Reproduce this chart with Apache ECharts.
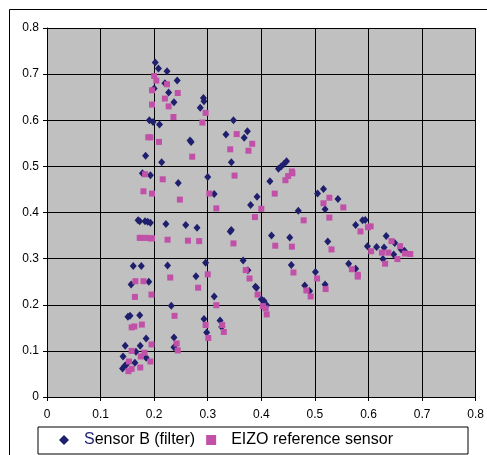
<!DOCTYPE html>
<html>
<head>
<meta charset="utf-8">
<script src="https://cdn.jsdelivr.net/npm/echarts@6/dist/echarts.min.js"></script>
<style>
  html, body { margin: 0; padding: 0; background: #fff; }
  #chart { width: 487px; height: 455px; }
</style>
</head>
<body>
<div id="chart"></div>
<script>
// Chromaticity coordinates (x, y) measured by each sensor
var sensorB = [
  [0.202,0.725],[0.208,0.712],[0.224,0.706],[0.243,0.686],[0.200,0.669],[0.220,0.680],
  [0.227,0.660],[0.237,0.639],[0.292,0.648],[0.293,0.641],[0.286,0.627],[0.191,0.600],
  [0.198,0.596],[0.210,0.591],[0.348,0.600],[0.334,0.569],[0.374,0.576],[0.368,0.562],
  [0.267,0.556],[0.269,0.553],[0.184,0.523],[0.214,0.509],[0.344,0.509],[0.178,0.485],
  [0.193,0.481],[0.300,0.477],[0.245,0.464],[0.312,0.440],[0.432,0.495],[0.437,0.500],
  [0.442,0.505],[0.447,0.511],[0.416,0.468],[0.392,0.434],[0.380,0.416],[0.505,0.441],
  [0.516,0.451],[0.519,0.407],[0.543,0.429],[0.469,0.404],[0.170,0.383],[0.173,0.381],
  [0.183,0.381],[0.188,0.380],[0.193,0.378],[0.222,0.375],[0.259,0.373],[0.280,0.367],
  [0.342,0.359],[0.344,0.362],[0.419,0.350],[0.453,0.346],[0.576,0.373],[0.589,0.383],
  [0.594,0.384],[0.598,0.327],[0.615,0.325],[0.633,0.349],[0.629,0.324],[0.649,0.334],
  [0.524,0.337],[0.627,0.299],[0.647,0.309],[0.661,0.320],[0.667,0.317],[0.161,0.284],
  [0.176,0.284],[0.157,0.244],[0.190,0.250],[0.225,0.285],[0.296,0.291],[0.278,0.262],
  [0.366,0.296],[0.375,0.275],[0.389,0.239],[0.391,0.237],[0.400,0.212],[0.405,0.208],
  [0.410,0.199],[0.456,0.286],[0.501,0.271],[0.519,0.244],[0.481,0.242],[0.490,0.230],
  [0.563,0.289],[0.576,0.278],[0.151,0.174],[0.155,0.176],[0.173,0.177],[0.232,0.198],
  [0.312,0.218],[0.293,0.169],[0.323,0.166],[0.326,0.152],[0.298,0.140],[0.237,0.129],
  [0.237,0.108],[0.185,0.127],[0.146,0.111],[0.174,0.111],[0.166,0.098],[0.142,0.088],
  [0.185,0.085],[0.164,0.074],[0.145,0.067],[0.141,0.062],[0.148,0.070]
];
var eizoRef = [
  [0.200,0.696],[0.204,0.686],[0.224,0.678],[0.196,0.665],[0.244,0.659],[0.220,0.647],
  [0.227,0.630],[0.196,0.634],[0.236,0.607],[0.296,0.616],[0.290,0.595],[0.189,0.563],
  [0.193,0.563],[0.209,0.553],[0.354,0.570],[0.342,0.537],[0.383,0.549],[0.376,0.534],
  [0.271,0.521],[0.183,0.483],[0.350,0.480],[0.216,0.472],[0.180,0.446],[0.196,0.441],
  [0.303,0.441],[0.248,0.428],[0.316,0.409],[0.457,0.489],[0.458,0.485],[0.450,0.479],
  [0.445,0.470],[0.425,0.441],[0.400,0.408],[0.388,0.390],[0.479,0.383],[0.516,0.420],
  [0.527,0.432],[0.553,0.411],[0.527,0.389],[0.173,0.345],[0.178,0.345],[0.187,0.345],
  [0.193,0.344],[0.196,0.344],[0.225,0.341],[0.263,0.339],[0.284,0.338],[0.348,0.333],
  [0.426,0.328],[0.457,0.326],[0.531,0.320],[0.585,0.359],[0.599,0.368],[0.604,0.370],
  [0.605,0.316],[0.625,0.313],[0.637,0.313],[0.643,0.338],[0.659,0.327],[0.631,0.289],
  [0.654,0.299],[0.668,0.311],[0.678,0.310],[0.165,0.251],[0.180,0.251],[0.164,0.217],
  [0.195,0.222],[0.230,0.259],[0.300,0.266],[0.282,0.237],[0.371,0.275],[0.378,0.257],
  [0.393,0.222],[0.403,0.197],[0.408,0.192],[0.410,0.179],[0.460,0.270],[0.504,0.257],
  [0.520,0.234],[0.484,0.231],[0.492,0.218],[0.569,0.277],[0.580,0.265],[0.580,0.261],
  [0.177,0.157],[0.158,0.151],[0.163,0.153],[0.238,0.176],[0.316,0.199],[0.296,0.156],
  [0.327,0.156],[0.330,0.141],[0.301,0.128],[0.195,0.114],[0.242,0.116],[0.244,0.101],
  [0.158,0.100],[0.182,0.096],[0.175,0.088],[0.153,0.077],[0.193,0.077],[0.174,0.064],
  [0.158,0.061],[0.152,0.056]
];
var seriesNames = ['Sensor B (filter)', 'EIZO reference sensor'];
var axisTicks = [0, 0.8, 0.1]; // min, max, step (both axes)

var NAVY = '#1f1f6e';
var MAGENTA = '#c150a8';
var FONT = '"Liberation Sans", Arial, sans-serif';

var chart = echarts.init(document.getElementById('chart'), null, { renderer: 'canvas' });

function valueAxis(isX) {
  return {
    type: 'value',
    min: axisTicks[0],
    max: axisTicks[1],
    interval: axisTicks[2],
    axisLine: { show: true, lineStyle: { color: '#000', width: 1 } },
    axisTick: { show: true, length: 4, lineStyle: { color: '#000' } },
    axisLabel: {
      color: '#000',
      fontFamily: FONT,
      fontSize: 12,
      margin: isX ? 12 : 8,
      padding: isX ? 0 : [3, 0, 0, 0],
      formatter: function (v) { return String(Math.round(v * 10) / 10); }
    },
    splitLine: { show: true, lineStyle: { color: '#000', width: 1 } }
  };
}

chart.setOption({
  animation: false,
  backgroundColor: '#fff',
  graphic: [
    {
      type: 'rect',
      shape: { x: 9.5, y: 9.5, width: 500, height: 480 },
      style: { fill: 'none', stroke: '#000', lineWidth: 1 },
      silent: true
    },
    {
      type: 'rect',
      shape: { x: 38, y: 427, width: 430, height: 27 },
      style: { fill: '#fff', stroke: '#000', lineWidth: 1 },
      silent: true
    }
  ],
  grid: {
    left: 47,
    top: 28,
    right: 9,
    bottom: 58,
    show: true,
    backgroundColor: '#c0c0c0',
    borderColor: '#000',
    borderWidth: 0
  },
  xAxis: valueAxis(true),
  yAxis: valueAxis(false),
  legend: {
    left: 59,
    top: 432,
    itemWidth: 10,
    itemHeight: 10,
    itemGap: 11,
    padding: 0,
    itemStyle: { opacity: 1 },
    data: [
      { name: seriesNames[0], icon: 'diamond' },
      { name: seriesNames[1], icon: 'rect' }
    ],
    formatter: function (name) {
      if (name === seriesNames[0]) {
        return '{s|' + name.charAt(0) + '}{t|' + name.slice(1) + '}';
      }
      return '{t|' + name + '}';
    },
    textStyle: {
      fontFamily: FONT,
      fontSize: 16,
      color: '#000',
      padding: [0, 0, 0, 10],
      rich: {
        s: { color: NAVY, fontFamily: FONT, fontSize: 16 },
        t: { color: '#000', fontFamily: FONT, fontSize: 16 }
      }
    }
  },
  series: [
    {
      name: seriesNames[0],
      type: 'scatter',
      symbol: 'diamond',
      symbolSize: [7, 8],
      itemStyle: { color: NAVY, opacity: 1 },
      data: sensorB,
      z: 2
    },
    {
      name: seriesNames[1],
      type: 'scatter',
      symbol: 'rect',
      symbolSize: 6,
      itemStyle: { color: MAGENTA, opacity: 1 },
      data: eizoRef,
      z: 3
    }
  ]
});
</script>
</body>
</html>
